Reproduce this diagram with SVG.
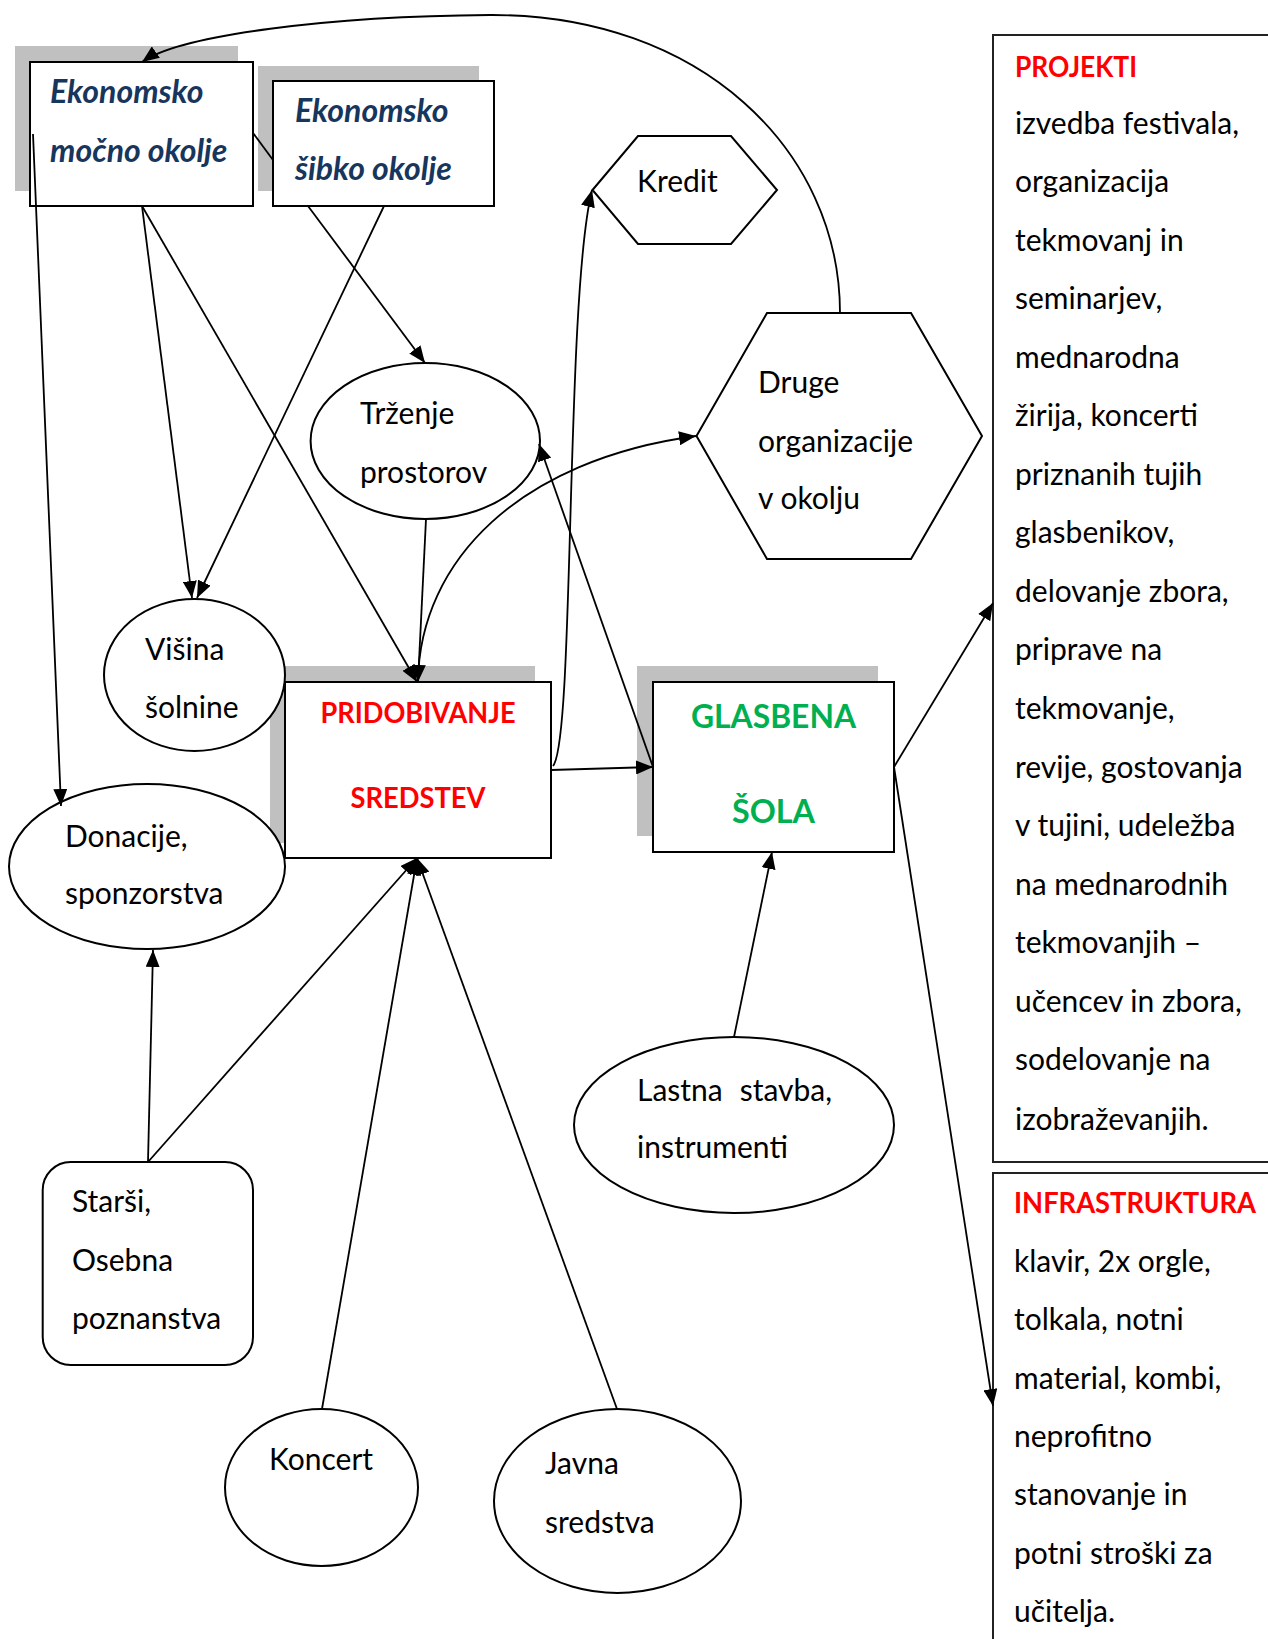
<svg xmlns="http://www.w3.org/2000/svg" width="1268" height="1639" viewBox="0 0 1268 1639">
  <style>
    .t { font-family: Lato, "Open Sans", "Liberation Sans", sans-serif; font-size: 30px; fill: #000; }
    .hb { font-weight: bold; }
    .red { fill: #FF0000; font-size: 29px; }
    .green { fill: #00B050; font-size: 33px; }
    .navy { fill: #17365D; font-weight: bold; font-style: italic; font-size: 32px; }
    .node { fill: #fff; stroke: #000; stroke-width: 2; }
    .panel { fill: #fff; stroke: #222; stroke-width: 2; }
    .shadow { fill: #C0C0C0; }
    .conn { fill: none; stroke: #000; stroke-width: 1.8; }
    .arr { marker-end: url(#head); }
  </style>
  <defs>
    <marker id="head" markerUnits="userSpaceOnUse" markerWidth="18" markerHeight="14" refX="17" refY="7" orient="auto">
      <path d="M0,0 L17,7 L0,14 z" fill="#000"/>
    </marker>
  </defs>

  <rect width="1268" height="1639" fill="#fff"/>

  <!-- right-hand panels -->
  <g id="projekti">
    <rect class="panel" x="993" y="35" width="300" height="1127"/>
    <text class="t hb red" x="1015" y="77" textLength="122" lengthAdjust="spacingAndGlyphs">PROJEKTI</text>
    <text class="t" x="1015" y="134">izvedba festivala,</text>
    <text class="t" x="1015" y="192">organizacija</text>
    <text class="t" x="1015" y="251">tekmovanj in</text>
    <text class="t" x="1015" y="309">seminarjev,</text>
    <text class="t" x="1015" y="368">mednarodna</text>
    <text class="t" x="1015" y="426">žirija, koncerti</text>
    <text class="t" x="1015" y="485">priznanih tujih</text>
    <text class="t" x="1015" y="543">glasbenikov,</text>
    <text class="t" x="1015" y="602">delovanje zbora,</text>
    <text class="t" x="1015" y="660">priprave na</text>
    <text class="t" x="1015" y="719">tekmovanje,</text>
    <text class="t" x="1015" y="778">revije, gostovanja</text>
    <text class="t" x="1015" y="836">v tujini, udeležba</text>
    <text class="t" x="1015" y="895">na mednarodnih</text>
    <text class="t" x="1015" y="953">tekmovanjih –</text>
    <text class="t" x="1015" y="1012">učencev in zbora,</text>
    <text class="t" x="1015" y="1070">sodelovanje na</text>
    <text class="t" x="1015" y="1130">izobraževanjih.</text>
  </g>
  <g id="infrastruktura">
    <rect class="panel" x="993" y="1173" width="300" height="500"/>
    <text class="t hb red" x="1014" y="1213" textLength="242" lengthAdjust="spacingAndGlyphs">INFRASTRUKTURA</text>
    <text class="t" x="1014" y="1272">klavir, 2x orgle,</text>
    <text class="t" x="1014" y="1330">tolkala, notni</text>
    <text class="t" x="1014" y="1389">material, kombi,</text>
    <text class="t" x="1014" y="1447">neprofitno</text>
    <text class="t" x="1014" y="1505">stanovanje in</text>
    <text class="t" x="1014" y="1564">potni stroški za</text>
    <text class="t" x="1014" y="1622">učitelja.</text>
  </g>

  <!-- shadowed boxes -->
  <g id="mocno">
    <rect class="shadow" x="15" y="46" width="223" height="145"/>
    <rect class="node" x="30" y="62" width="223" height="144"/>
    <text class="t navy" x="50" y="103">Ekonomsko</text>
    <text class="t navy" x="50" y="162">močno okolje</text>
  </g>
  <g id="sibko">
    <rect class="shadow" x="258" y="66" width="221" height="125"/>
    <rect class="node" x="273" y="81" width="221" height="125"/>
    <text class="t navy" x="295" y="122">Ekonomsko</text>
    <text class="t navy" x="295" y="180">šibko okolje</text>
  </g>
  <g id="pridobivanje">
    <rect class="shadow" x="270" y="666" width="265" height="177"/>
    <rect class="node" x="285" y="682" width="266" height="176"/>
    <text class="t hb red" x="418" y="723" text-anchor="middle" textLength="195" lengthAdjust="spacingAndGlyphs">PRIDOBIVANJE</text>
    <text class="t hb red" x="418" y="808" text-anchor="middle" textLength="135" lengthAdjust="spacingAndGlyphs">SREDSTEV</text>
  </g>
  <g id="glasbena">
    <rect class="shadow" x="637" y="666" width="241" height="170"/>
    <rect class="node" x="653" y="682" width="241" height="170"/>
    <text class="t hb green" x="773.5" y="728" text-anchor="middle" textLength="165" lengthAdjust="spacingAndGlyphs">GLASBENA</text>
    <text class="t hb green" x="773.5" y="823" text-anchor="middle" textLength="83" lengthAdjust="spacingAndGlyphs">ŠOLA</text>
  </g>

  <!-- hexagons -->
  <g id="kredit">
    <polygon class="node" points="592.5,190 638,136 731,136 777,190 731,244 638,244"/>
    <text class="t" x="637" y="192">Kredit</text>
  </g>
  <g id="druge">
    <polygon class="node" points="696.5,436 767,313 911,313 982,436 911,559 767,559"/>
    <text class="t" x="758" y="393">Druge</text>
    <text class="t" x="758" y="452">organizacije</text>
    <text class="t" x="758" y="509">v okolju</text>
  </g>

  <!-- ellipses -->
  <g id="trzenje">
    <ellipse class="node" cx="425.3" cy="441" rx="114.7" ry="78"/>
    <text class="t" x="360" y="424">Trženje</text>
    <text class="t" x="360" y="483">prostorov</text>
  </g>
  <g id="visina">
    <ellipse class="node" cx="194.5" cy="675" rx="90.5" ry="76"/>
    <text class="t" x="145" y="660">Višina</text>
    <text class="t" x="145" y="718">šolnine</text>
  </g>
  <g id="donacije">
    <ellipse class="node" cx="147" cy="866.5" rx="138" ry="82.5"/>
    <text class="t" x="65" y="847">Donacije,</text>
    <text class="t" x="65" y="904">sponzorstva</text>
  </g>
  <g id="lastna">
    <ellipse class="node" cx="734" cy="1125" rx="160" ry="88"/>
    <text class="t" x="637" y="1101"><tspan>Lastna</tspan><tspan x="832" text-anchor="end">stavba,</tspan></text>
    <text class="t" x="637" y="1158">instrumenti</text>
  </g>
  <g id="starsi">
    <rect class="node" x="42.7" y="1162" width="210.3" height="203" rx="28" ry="28"/>
    <text class="t" x="72" y="1212">Starši,</text>
    <text class="t" x="72" y="1271">Osebna</text>
    <text class="t" x="72" y="1329">poznanstva</text>
  </g>
  <g id="koncert">
    <ellipse class="node" cx="321.5" cy="1487.5" rx="96.5" ry="78.5"/>
    <text class="t" x="269" y="1470">Koncert</text>
  </g>
  <g id="javna">
    <ellipse class="node" cx="617.5" cy="1501" rx="123.5" ry="92"/>
    <text class="t" x="545" y="1474">Javna</text>
    <text class="t" x="545" y="1533">sredstva</text>
  </g>

  <!-- connectors -->
  <g id="connectors">
    <path class="conn arr" d="M840,313 C840,150 700,14 490,15 C330,16 180,35 142,62"/>
    <path class="conn arr" d="M553,766 C575,740 565,300 592,190"/>
    <path class="conn arr" d="M418,681 C420,560 520,460 696,436"/>
    <path class="conn arr" d="M33,134 L61,806"/>
    <path class="conn arr" d="M142,206 L192,598"/>
    <path class="conn arr" d="M142,206 L417,682"/>
    <path class="conn arr" d="M308,206 L425,363"/>
    <path class="conn arr" d="M384,206 L197,598"/>
    <path class="conn arr" d="M426,519 L418,682"/>
    <path class="conn arr" d="M653,767 L539,444"/>
    <path class="conn arr" d="M551,770 L653,767"/>
    <path class="conn arr" d="M894,767 L993,603"/>
    <path class="conn arr" d="M894,767 L993,1406"/>
    <path class="conn arr" d="M734,1037 L772,852"/>
    <path class="conn arr" d="M148,1162 L153,950"/>
    <path class="conn arr" d="M148,1162 L417,858"/>
    <path class="conn arr" d="M322,1409 L417,858"/>
    <path class="conn arr" d="M617,1409 L417,858"/>
    <path class="conn" d="M253,133 L273,160" stroke="#333" stroke-width="1.4"/>
  </g>
</svg>
